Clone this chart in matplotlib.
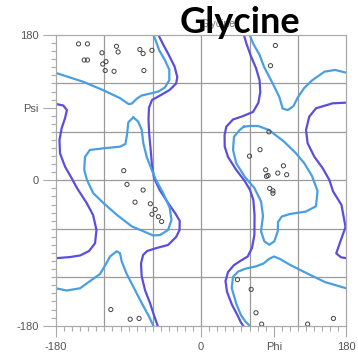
import numpy as np
import matplotlib.pyplot as plt

# contour lines, as (phi, psi) pairs
outer_left_far = [(-180, 94.6), (-171, 92.7), (-166.4, 87), (-168.8, 77), (-173, 64.5), (-175.7, 50),
                  (-175, 33.5), (-168.8, 17), (-160.5, 2.5), (-154, -9.5), (-142, -28), (-134, -43),
                  (-129.8, -61.5), (-131.6, -78), (-139, -87.5), (-150, -93), (-162.6, -95), (-180, -96.4)]
outer_left = [(-53, 180), (-47, 168), (-41, 157), (-33, 141), (-29.6, 128), (-31, 120), (-39, 112),
              (-51, 105), (-61, 99.5), (-64.7, 90), (-65.3, 75), (-64.3, 56), (-62.6, 38), (-61, 19),
              (-58.5, 3), (-51.4, -12), (-41, -28), (-32.4, -40.5), (-26.6, -50), (-26.8, -61.5),
              (-31, -70), (-41, -80), (-56, -84), (-67, -87.5), (-72, -92.5), (-74.6, -103),
              (-73.7, -119), (-69.6, -136), (-63.4, -152), (-58.5, -167), (-54, -180)]
outer_right = [(53, 180), (56, 169.7), (62, 153), (68, 139), (72.4, 124), (73.3, 109), (70.9, 96),
               (64.3, 84.7), (49.8, 78.8), (39.5, 75.4), (31.2, 66.5), (29, 56), (29.2, 41.7),
               (33.3, 29), (43.6, 12.8), (54, -0.8), (60.6, -12), (64.7, -24.3), (66.2, -43),
               (66, -67.7), (63, -83.8), (57.7, -94.3), (48.2, -100), (40.7, -105), (33.3, -113.5),
               (30.2, -124.7), (32, -138), (38.2, -154), (45, -167), (49, -175.4), (52, -180)]
outer_right_far = [(180, 96.2), (163, 95.4), (142.4, 89.2), (134, 78.8), (130, 62.4), (132, 46),
                   (140.3, 29.3), (150.7, 15), (159, 0.4), (163.5, -13.6), (174, -30.5), (179, -57.8),
                   (171.5, -78.8), (167.5, -90.4), (173.4, -95.3), (180, -96.4)]

inner_top_left = [(-180, 133), (-146, 122), (-120, 111), (-101, 102), (-90, 94.5), (-86, 95), (-80, 101),
                  (-74, 105), (-61, 108), (-53, 110), (-45, 115), (-39.5, 124), (-39.5, 137), (-45, 149),
                  (-52, 161), (-56, 172), (-59, 180)]
inner_alpha_left = [(-84, 78), (-78, 72.6), (-73.7, 62.4), (-71.7, 46), (-67.5, 29), (-61.3, 13), (-56, 0.4),
                    (-47, -16), (-39, -34), (-36.8, -49), (-41, -61.5), (-51, -67.7), (-59.7, -68.3),
                    (-71.7, -63), (-86, -57), (-104.7, -42.6), (-121.3, -28), (-133.7, -16), (-141.6, 0.4),
                    (-145, 13), (-144, 29), (-138, 37.6), (-121, 39.7), (-100.6, 41.7), (-94, 45),
                    (-92, 56), (-90.3, 72), (-84, 78)]
inner_bottom_left = [(-180, -133.7), (-166.7, -136.4), (-150.2, -133.7), (-137.8, -124.7), (-125.4, -116),
                     (-119.2, -105.5), (-113, -94.3), (-104.7, -87.8), (-100.6, -90.2), (-98.5, -100.5),
                     (-92.3, -116), (-84, -132), (-73.7, -152), (-65.5, -167), (-59.3, -180)]
inner_top_right = [(60.2, 180), (64.3, 169.7), (72.6, 155), (77.9, 140.7), (88.7, 120), (97, 103),
                   (101, 89), (107.3, 87), (114.5, 92), (120, 103), (127.5, 114), (137.4, 123.7),
                   (153, 134.6), (166, 136.7), (180, 133.3)]
inner_alpha_right = [(53, 66.5), (60.6, 67.3), (70.5, 67.3), (84, 62.4), (102.7, 48), (117.6, 33.5),
                     (128, 21), (137.4, 5.4), (144.3, -13), (142.4, -32), (130, -38.6), (110, -41.7),
                     (100, -44.8), (95.3, -51.6), (95, -63), (90.7, -75.5), (84.5, -79.7), (78.3, -75.5),
                     (74.2, -63), (76.7, -44), (74.2, -26), (66, -9.5), (54, 4.5), (43.6, 21),
                     (39.5, 37.6), (40.7, 54), (47.8, 62.4), (53, 66.5)]
inner_bottom_right = [(180, -133.7), (153.6, -126), (128.8, -114), (109, -104), (97.8, -97.4), (90.3, -94.3),
                      (84, -97.4), (77.3, -103), (68, -106.5), (55.6, -109.2), (45.7, -113), (39.5, -119.7),
                      (37.9, -133.3), (43.6, -153), (49.4, -167), (55, -175), (60.2, -180)]

# residues
dot_phi = [-152, -141, -105, -123, -103, -76, -72, -61, -145, -141, -118, -122, -119, -108, -71, -96,
           -92, -72, -82, -63, -57, -61, -53, -49,
           -112, -88, -77,
           92, 86,
           84, 73, 60, 102, 80, 95, 106, 83, 81, 85, 89, 89,
           45, 62, 68, 75, 132, 164]
dot_psi = [169, 169, 166, 158, 159, 162, 157, 161, 149, 149, 147, 144, 136, 135, 136, 12,
           -5, -12, -27, -29, -36, -42, -45, -51,
           -160, -172, -171,
           167, 142,
           60, 38, 30, 18, 13, 9, 7, 6, 5, -10, -13, -16,
           -123, -135, -164, -178, -178, -171]

grid_vals = [-120, -60, 0, 60, 120]
tick_vals = [-180, 0, 90, 180]
x_labels = ['-180', '0', 'Phi', '180']
y_labels = ['-180', '0', 'Psi', '180']

outer_color = '#5a4ee0'
inner_color = '#4a9fe3'

plt.rcParams['font.family'] = ['Liberation Sans', 'DejaVu Sans']

fig = plt.figure(figsize=(3.58, 3.52), dpi=100)
ax = fig.add_axes([0.1564, 0.0747, 0.811, 0.8259])

for g in grid_vals:
    ax.axvline(g, color='#9a9a9a', lw=0.9, zorder=1)
    ax.axhline(g, color='#9a9a9a', lw=0.9, zorder=1)

for line in [outer_left_far, outer_left, outer_right, outer_right_far]:
    pts = np.array(line)
    ax.plot(pts[:, 0], pts[:, 1], color=outer_color, lw=1.6, solid_joinstyle='round', zorder=2)
for line in [inner_top_left, inner_alpha_left, inner_bottom_left,
             inner_top_right, inner_alpha_right, inner_bottom_right]:
    pts = np.array(line)
    ax.plot(pts[:, 0], pts[:, 1], color=inner_color, lw=1.6, solid_joinstyle='round', zorder=2)

ax.scatter(dot_phi, dot_psi, s=9, facecolors='none', edgecolors='#444444', linewidths=0.7, zorder=3)

ax.set_xlim(-180, 180)
ax.set_ylim(-180, 180)
ax.set_xticks(tick_vals)
ax.set_xticklabels(x_labels)
ax.set_yticks(tick_vals)
ax.set_yticklabels(y_labels)
ax.set_xticks(np.arange(-180, 181, 10), minor=True)
ax.set_yticks(np.arange(-180, 181, 10), minor=True)
ax.tick_params(which='major', axis='y', length=9.5, width=0.8, color='#aaaaaa', pad=3,
               labelsize=8, labelcolor='#555555')
ax.tick_params(which='major', axis='x', length=8, width=0.8, color='#aaaaaa', pad=3.5,
               labelsize=8, labelcolor='#555555')
ax.tick_params(which='minor', length=3.5, width=0.8, color='#aaaaaa')
for s in ax.spines.values():
    s.set_color('#aaaaaa')
    s.set_linewidth(0.9)

# chart's own small title and the big overlay label
fig.text(0.610, 0.923, 'Glycine', ha='center', va='baseline', fontsize=7.5, color='#777777')
fig.text(0.669, 0.9054, 'Glycine', ha='center', va='baseline', fontsize=26,
         fontweight='bold', family=['Lato', 'DejaVu Sans'], color='black')

fig.savefig('out.png', dpi=100)
